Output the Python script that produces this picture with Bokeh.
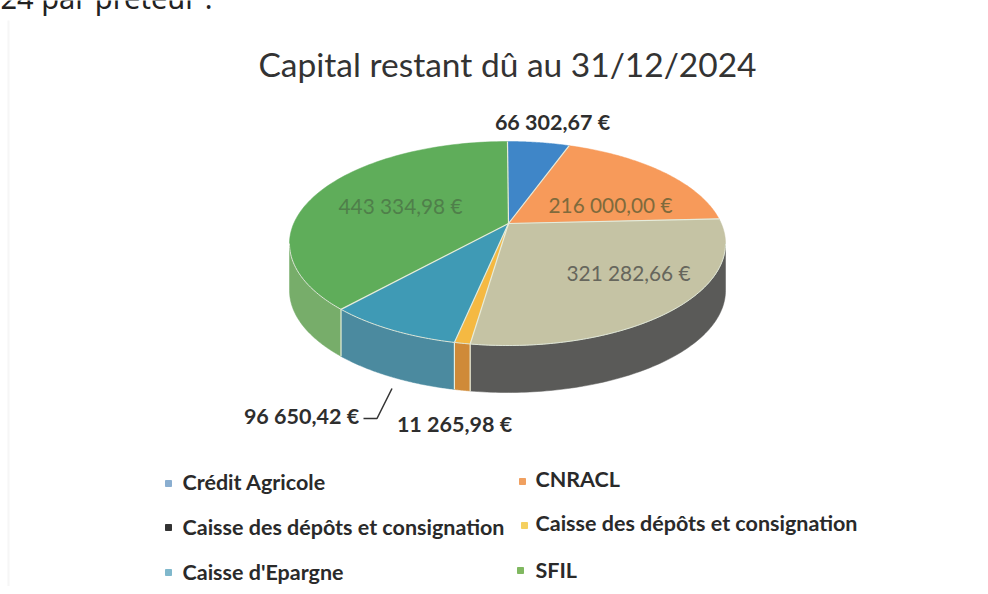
import numpy as np
from bokeh.plotting import figure
from bokeh.models import Range1d, ColumnDataSource
from bokeh.core.properties import value
from bokeh.embed import file_html
from bokeh.resources import INLINE

title = "Capital restant dû au 31/12/2024"
clipped_text = "24 par prêteur :"
lenders = ["Crédit Agricole", "CNRACL", "Caisse des dépôts et consignation",
           "Caisse des dépôts et consignation", "Caisse d'Epargne", "SFIL"]
amounts = [66302.67, 216000.00, 321282.66, 11265.98, 96650.42, 443334.98]
amount_labels = ["66 302,67 €", "216 000,00 €", "321 282,66 €", "11 265,98 €", "96 650,42 €", "443 334,98 €"]
top_colors = ["#3f86c8", "#f79a5a", "#c5c3a4", "#f5b942", "#3f9ab5", "#5fad5a"]
side_colors = ["#35689c", "#c87a40", "#5a5a58", "#cf8a38", "#4b8a9f", "#77ad6a"]
legend_colors = ["#8aaed0", "#f0a060", "#333333", "#f5d060", "#80b8cc", "#80b860"]
label_colors = ["#2e2e2e", "#7f6a3c", "#66665c", "#2e2e2e", "#2e2e2e", "#4f7f4a"]

# Layout (page pixels)
W, H = 980, 586
CX, CY, RX, RY = 507, 243, 218, 102
AX, AY = 508, 223
DEPTH = 47
K = np.radians(12)
FONT = "Lato"
outer_idx = [0, 3, 4]
inner_idx = [1, 2, 5]
label_x = [552, 610, 628, 454, 301, 400]
label_y = [121, 204, 272, 423, 415, 205]
legend_mx = [168, 522, 168, 524, 168, 520]
legend_my = [483, 481, 527, 525, 572, 570]
legend_tx = [182, 535, 182, 535, 182, 535]
legend_ty = [481, 478, 526, 522, 571, 569]

p = figure(width=W, height=H, x_range=Range1d(0, W), y_range=Range1d(H, 0),
           output_backend="svg", toolbar_location=None, min_border=0,
           outline_line_color=None, background_fill_color="white", border_fill_color="white")
p.axis.visible = False
p.grid.visible = False
p.margin = (0, 0, 0, 0)

def proj(theta):
    return theta - K * np.sin(theta)

def ell(t, dy=0.0):
    return CX + RX * np.sin(t), CY - RY * np.cos(t) + dy

fr = np.cumsum([0] + amounts) / sum(amounts) * 2 * np.pi
top_xs, top_ys, side_xs, side_ys, side_c = [], [], [], [], []
sep_xs, sep_ys = [], []
for i in range(len(amounts)):
    t0, t1 = proj(fr[i]), proj(fr[i + 1])
    t = np.linspace(t0, t1, 90)
    x, y = ell(t)
    top_xs.append(np.r_[AX, x].tolist())
    top_ys.append(np.r_[AY, y].tolist())
    a, b = max(t0, np.pi / 2), min(t1, 3 * np.pi / 2)
    if b > a:
        s = np.linspace(a, b, 90)
        sx, sy = ell(s)
        bx, by = ell(s[::-1], DEPTH)
        side_xs.append(np.r_[sx, bx].tolist())
        side_ys.append(np.r_[sy, by].tolist())
        side_c.append(side_colors[i])
    sep_xs.append([AX, float(ell(t0)[0])])
    sep_ys.append([AY, float(ell(t0)[1])])
    if np.pi / 2 < t0 < 3 * np.pi / 2:
        ex, ey = ell(t0)
        sep_xs.append([float(ex), float(ex)])
        sep_ys.append([float(ey), float(ey) + DEPTH])

# faint scan edge
p.line([8, 8], [20, 590], line_color="#f6f6f6", line_width=2)

p.patches(side_xs, side_ys, fill_color=side_c, line_color=side_c, line_width=0.5)
p.patches(top_xs, top_ys, fill_color=top_colors, line_color=top_colors, line_width=0.5)
p.multi_line(sep_xs, sep_ys, line_color="#e6ecdc", line_width=1.2)
rt = np.linspace(np.pi / 2, 3 * np.pi / 2, 200)
rx, ry = ell(rt)
p.line(rx, ry, line_color="#dfe6d8", line_width=1)

# leader line for Caisse d'Epargne
p.line([391.5, 376.5, 363], [388, 418, 418], line_color="#333333", line_width=1.5)

def txt(x, y, s, size, color, align="center", weight="normal", font=FONT, baseline="middle"):
    p.text(x=x, y=y, text=s, text_font=value(font), text_font_size=f"{size}px",
           text_color=color, text_align=align, text_baseline=baseline, text_font_style=weight)

txt([0], [-3], [clipped_text], 29, "#222222", "left", font="Noto Sans", baseline="alphabetic")
txt([507], [63], [title], 33.5, "#333333")
txt([label_x[i] for i in outer_idx], [label_y[i] for i in outer_idx],
    [amount_labels[i] for i in outer_idx], 21.5, [label_colors[i] for i in outer_idx], weight="bold")
txt([label_x[i] for i in inner_idx], [label_y[i] for i in inner_idx],
    [amount_labels[i] for i in inner_idx], 20.8, [label_colors[i] for i in inner_idx])

src = ColumnDataSource(dict(x=legend_mx, y=legend_my, c=legend_colors))
p.scatter("x", "y", source=src, size=6, marker="square", fill_color="c", line_color="c")
txt(legend_tx, legend_ty, lenders, 21.5, "#2a2a2a", "left", weight="bold")

open("out.html", "w").write(file_html(p, INLINE))
